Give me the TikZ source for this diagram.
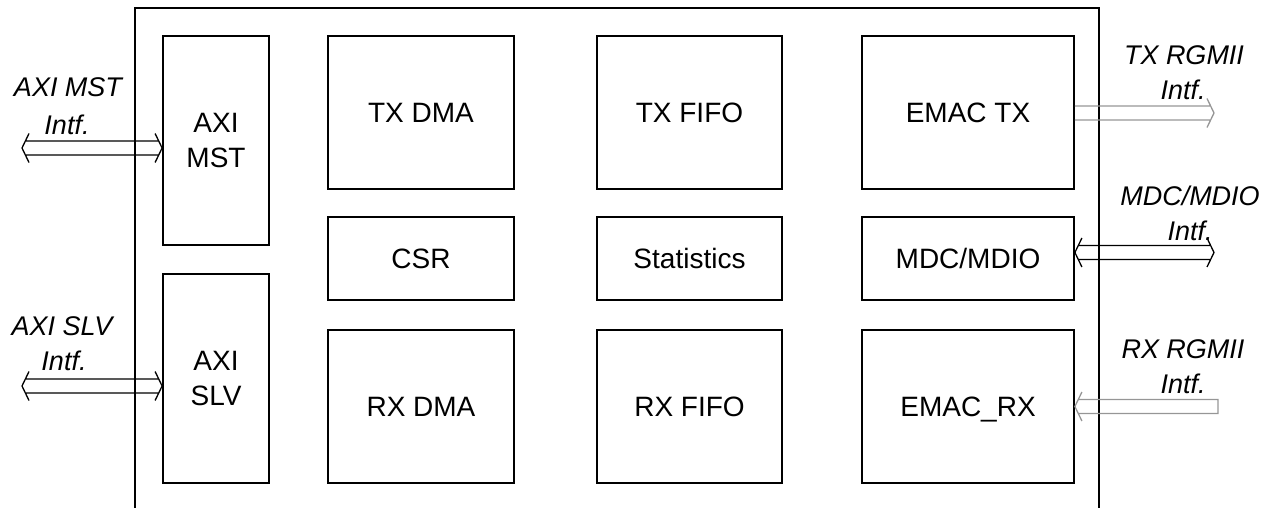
\documentclass[tikz,border=0pt]{standalone}
\usepackage{fontspec}
\setmainfont{Liberation Sans}
\usetikzlibrary{calc}
\definecolor{arrgray}{RGB}{150,150,150}
\tikzset{
 blkbase/.style={draw=black, line width=1.8pt, inner sep=0pt, align=center, font=\fontsize{28}{35}\selectfont},
 blk/.style={blkbase, text height=20pt, text depth=0pt},
 lbl/.style={font=\fontsize{27}{30}\selectfont\itshape, anchor=base, inner sep=0pt},
 arr/.style={line width=1.3pt, draw=black, line join=miter},
 arrg/.style={arr, draw=arrgray},
 outerline/.style={draw=black, line width=1.8pt},
}
\newcommand\arrowBoth[3]{\draw[#1] let \p1=(#2), \p2=(#3) in
 (\x1+3.4pt,\y1+7pt) -- (\x2-3.4pt,\y1+7pt)
 (\x1+3.4pt,\y1-7pt) -- (\x2-3.4pt,\y1-7pt)
 (\x1+7pt,\y1+14.5pt) -- (\x1,\y1) -- (\x1+7pt,\y1-14.5pt)
 (\x2-7pt,\y1+14.5pt) -- (\x2,\y1) -- (\x2-7pt,\y1-14.5pt);}
\newcommand\arrowRight[3]{\draw[#1] let \p1=(#2), \p2=(#3) in
 (\x1,\y1+7pt) -- (\x2-3.4pt,\y1+7pt)
 (\x1,\y1-7pt) -- (\x2-3.4pt,\y1-7pt)
 (\x2-7pt,\y1+14.5pt) -- (\x2,\y1) -- (\x2-7pt,\y1-14.5pt);}
\newcommand\arrowLeftClosed[3]{\draw[#1] let \p1=(#2), \p2=(#3) in
 (\x1+3.4pt,\y1+7pt) -- (\x2,\y1+7pt) -- (\x2,\y1-7pt) -- (\x1+3.4pt,\y1-7pt)
 (\x1+7pt,\y1+14.5pt) -- (\x1,\y1) -- (\x1+7pt,\y1-14.5pt);}
\begin{document}
\begin{tikzpicture}[x=1pt,y=-1pt]
\useasboundingbox (0,0) rectangle (1274,508);
% outer frame
\coordinate (oBL) at (135,508);
\coordinate (oTL) at (135,8);
\coordinate (oTR) at (1099,8);
\coordinate (oBR) at (1099,508);
\draw[outerline] (oBL) -- (oTL) -- (oTR) -- (oBR);
% blocks
\node[blkbase, minimum width=106pt, minimum height=209pt] (mst) at (216,140.5) {AXI\\MST};
\node[blkbase, minimum width=106pt, minimum height=209pt] (slv) at (216,378.5) {AXI\\SLV};
\node[blk, minimum width=186pt, minimum height=153pt] (txdma) at (421,112.5) {TX DMA};
\node[blk, minimum width=185pt, minimum height=153pt] (txfifo) at (689.5,112.5) {TX FIFO};
\node[blk, minimum width=212pt, minimum height=153pt] (emactx) at (968,112.5) {EMAC TX};
\node[blk, minimum width=186pt, minimum height=83pt] (csr) at (421,258.5) {CSR};
\node[blk, minimum width=185pt, minimum height=83pt] (stats) at (689.5,258.5) {Statistics};
\node[blk, minimum width=212pt, minimum height=83pt] (mdio) at (968,258.5) {MDC/MDIO};
\node[blk, minimum width=186pt, minimum height=153pt] (rxdma) at (421,406.5) {RX DMA};
\node[blk, minimum width=185pt, minimum height=153pt] (rxfifo) at (689.5,406.5) {RX FIFO};
\node[blk, minimum width=212pt, minimum height=153pt] (emacrx) at (968,406.5) {EMAC\_RX};
% interface end points
\coordinate (mstExt) at (22,148);
\coordinate (mstInt) at (mst.west |- mstExt);
\coordinate (slvExt) at (22,386);
\coordinate (slvInt) at (slv.west |- slvExt);
\coordinate (txExt) at (1214,113);
\coordinate (txInt) at (emactx.east |- txExt);
\coordinate (mdioExt) at (1214,252.5);
\coordinate (mdioInt) at (mdio.east |- mdioExt);
\coordinate (rxExt) at (1218,406.5);
\coordinate (rxInt) at (emacrx.east |- rxExt);
% arrows
\arrowBoth{arr}{mstExt}{mstInt}
\arrowBoth{arr}{slvExt}{slvInt}
\arrowRight{arrg}{txInt}{txExt}
\arrowBoth{arr}{mdioInt}{mdioExt}
\arrowLeftClosed{arrg}{rxInt}{rxExt}
% labels
\node[lbl] (mstL1) at (68,97) {AXI MST};
\node[lbl] (mstL2) at (67,135) {Intf.};
\node[lbl] (slvL1) at (62,335) {AXI SLV};
\node[lbl] (slvL2) at (64,370) {Intf.};
\node[lbl] (txL1) at (1184,65) {TX RGMII};
\node[lbl] (txL2) at (1183,100) {Intf.};
\node[lbl] (mdioL1) at (1190,205) {MDC/MDIO};
\node[lbl] (mdioL2) at (1190,240) {Intf.};
\node[lbl] (rxL1) at (1183,358) {RX RGMII};
\node[lbl] (rxL2) at (1183,393) {Intf.};
\end{tikzpicture}
\end{document}
